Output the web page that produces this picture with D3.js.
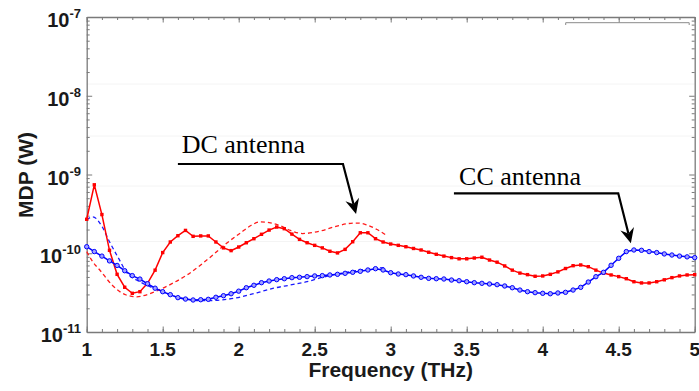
<!DOCTYPE html>
<html>
<head>
<meta charset="utf-8">
<script src="https://cdn.jsdelivr.net/npm/d3@7"></script>
<style>
  html, body { margin: 0; padding: 0; background: #fff; }
  svg { display: block; }
</style>
</head>
<body>
<svg id="chart" width="699" height="391"></svg>
<script>
// ---------------- DATA ----------------
const freq = [1.00,1.05,1.10,1.15,1.20,1.25,1.30,1.35,1.40,1.45,1.50,1.55,1.60,1.65,1.70,1.75,1.80,1.85,1.90,1.95,
  2.00,2.05,2.10,2.15,2.20,2.25,2.30,2.35,2.40,2.45,2.50,2.55,2.60,2.65,2.70,2.75,2.80,2.85,2.90,2.95,
  3.00,3.05,3.10,3.15,3.20,3.25,3.30,3.35,3.40,3.45,3.50,3.55,3.60,3.65,3.70,3.75,3.80,3.85,3.90,3.95,
  4.00,4.05,4.10,4.15,4.20,4.25,4.30,4.35,4.40,4.45,4.50,4.55,4.60,4.65,4.70,4.75,4.80,4.85,4.90,4.95,5.00];

const dcMeasured = [2.7e-10,7.4e-10,3.1e-10,1.09e-10,5.4e-11,3.7e-11,3.1e-11,3.25e-11,4.15e-11,6.1e-11,
  1.02e-10,1.39e-10,1.67e-10,1.95e-10,1.64e-10,1.66e-10,1.66e-10,1.39e-10,1.17e-10,1.08e-10,
  1.2e-10,1.36e-10,1.53e-10,1.74e-10,1.97e-10,2.15e-10,2.05e-10,1.75e-10,1.5e-10,1.36e-10,
  1.26e-10,1.17e-10,1.06e-10,1.01e-10,1.12e-10,1.4e-10,1.82e-10,1.82e-10,1.53e-10,1.39e-10,
  1.31e-10,1.26e-10,1.21e-10,1.15e-10,1.1e-10,1.03e-10,9.7e-11,9.2e-11,8.8e-11,8.5e-11,
  8.5e-11,8.7e-11,8.9e-11,8.2e-11,7.7e-11,6.9e-11,6.1e-11,5.6e-11,5.35e-11,5.1e-11,
  5.15e-11,5.4e-11,5.8e-11,6.4e-11,6.95e-11,7.1e-11,6.75e-11,6.1e-11,5.6e-11,5.3e-11,
  5.05e-11,4.75e-11,4.35e-11,4.2e-11,4.2e-11,4.35e-11,4.6e-11,4.9e-11,5.15e-11,5.3e-11,5.35e-11];

const ccMeasured = [1.21e-10,1.05e-10,9.2e-11,8.0e-11,7.0e-11,6.0e-11,5.2e-11,4.7e-11,4.1e-11,3.6e-11,
  3.25e-11,2.98e-11,2.73e-11,2.62e-11,2.55e-11,2.57e-11,2.6e-11,2.76e-11,2.89e-11,3.06e-11,
  3.3e-11,3.65e-11,3.92e-11,4.23e-11,4.44e-11,4.62e-11,4.75e-11,4.9e-11,4.95e-11,5.05e-11,
  5.15e-11,5.2e-11,5.3e-11,5.4e-11,5.56e-11,5.73e-11,5.9e-11,6.13e-11,6.37e-11,6.13e-11,
  5.66e-11,5.45e-11,5.35e-11,5.15e-11,4.95e-11,4.8e-11,4.75e-11,4.71e-11,4.57e-11,4.48e-11,
  4.35e-11,4.23e-11,4.15e-11,4.07e-11,3.99e-11,3.84e-11,3.65e-11,3.41e-11,3.25e-11,3.16e-11,
  3.1e-11,3.06e-11,3.13e-11,3.19e-11,3.41e-11,3.69e-11,4.31e-11,5.04e-11,5.73e-11,7.03e-11,
  8.63e-11,1.05e-10,1.1e-10,1.09e-10,1.05e-10,1.02e-10,9.8e-11,9.5e-11,9.2e-11,9.0e-11,8.8e-11];

const dcSimFreq = [1.00,1.04,1.09,1.17,1.26,1.33,1.39,1.48,1.57,1.66,1.75,1.83,1.92,2.01,2.08,2.14,2.20,2.27,2.34,2.42,2.53,2.64,2.72,2.78,2.84,2.91,2.97];
const dcSim = [1.05e-10,7.8e-11,6.0e-11,3.9e-11,2.95e-11,2.8e-11,2.95e-11,3.45e-11,4.2e-11,5.3e-11,7.1e-11,9.5e-11,1.34e-10,1.8e-10,2.25e-10,2.5e-10,2.45e-10,2.25e-10,1.95e-10,1.78e-10,1.9e-10,2.2e-10,2.38e-10,2.42e-10,2.3e-10,2.0e-10,1.7e-10];

const ccSimFreq = [1.00,1.04,1.10,1.15,1.21,1.26,1.35,1.44,1.55,1.66,1.77,1.88,2.01,2.12,2.23,2.34,2.45,2.56,2.67,2.77,2.89,2.97];
const ccSim = [2.65e-10,2.9e-10,2.2e-10,1.4e-10,8.6e-11,5.8e-11,4.35e-11,3.6e-11,2.95e-11,2.6e-11,2.5e-11,2.55e-11,2.78e-11,3.15e-11,3.6e-11,3.95e-11,4.35e-11,5.0e-11,5.55e-11,6.0e-11,6.4e-11,6.6e-11];

const xTicks = [1, 1.5, 2, 2.5, 3, 3.5, 4, 4.5, 5];
const xTickLabels = ["1", "1.5", "2", "2.5", "3", "3.5", "4", "4.5", "5"];
const yTicks = [1e-11, 1e-10, 1e-9, 1e-8, 1e-7];
const yTickExp = ["-11", "-10", "-9", "-8", "-7"];
const xLabel = "Frequency (THz)";
const yLabel = "MDP (W)";
const annotations = [
  { text: "DC antenna", tx: 1.625, ty: 1.86e-9, x0: 1.60, x1: 2.686, yl: 1.36e-9, tipX: 2.772, tipY: 3.15e-10 },
  { text: "CC antenna", tx: 3.45, ty: 7.3e-10, x0: 3.416, x1: 4.497, yl: 5.77e-10, tipX: 4.58, tipY: 1.34e-10 }
];

// ---------------- CHART ----------------
const svg = d3.select("#chart");
const L = 86.7, R = 694.7, T = 17, B = 332;
const x = d3.scaleLinear().domain([1, 5]).range([L, R]);
const y = d3.scaleLog().domain([1e-11, 1e-7]).range([B, T]);

const axisColor = "#7a7a7a";
const minorX = d3.range(10, 51).map(d => d / 10);
const minorY = [];
[-11, -10, -9, -8].forEach(e => { for (let k = 2; k <= 9; k++) minorY.push(k * Math.pow(10, e)); });

// faint horizontal lines (rendering artifacts in the original)
[84, 136, 186, 241.5].forEach(py => {
  svg.append("line").attr("x1", L).attr("x2", R).attr("y1", py).attr("y2", py)
    .attr("stroke", "#f4f4f4").attr("stroke-width", 1);
});

const gAx = svg.append("g");
function styleAxis(g) {
  g.selectAll("path.domain").attr("stroke", axisColor).attr("stroke-width", 1.3);
  g.selectAll(".tick line").attr("stroke", axisColor).attr("stroke-width", 1);
  g.selectAll(".tick text").remove();
}
// bottom
gAx.append("g").attr("transform", `translate(0,${B})`)
  .call(d3.axisBottom(x).tickValues(minorX).tickSize(-3).tickSizeOuter(0)).call(styleAxis);
gAx.append("g").attr("transform", `translate(0,${B})`)
  .call(d3.axisBottom(x).tickValues(xTicks).tickSize(-5.5).tickSizeOuter(0)).call(styleAxis)
  .select("path.domain").remove();
// top
gAx.append("g").attr("transform", `translate(0,${T})`)
  .call(d3.axisTop(x).tickValues(minorX).tickSize(-3).tickSizeOuter(0)).call(styleAxis);
gAx.append("g").attr("transform", `translate(0,${T})`)
  .call(d3.axisTop(x).tickValues(xTicks).tickSize(-5.5).tickSizeOuter(0)).call(styleAxis)
  .select("path.domain").remove();
// left
gAx.append("g").attr("transform", `translate(${L},0)`)
  .call(d3.axisLeft(y).tickValues(minorY).tickSize(-3).tickSizeOuter(0)).call(styleAxis);
gAx.append("g").attr("transform", `translate(${L},0)`)
  .call(d3.axisLeft(y).tickValues(yTicks).tickSize(-5.5).tickSizeOuter(0)).call(styleAxis)
  .select("path.domain").remove();
// right
gAx.append("g").attr("transform", `translate(${R},0)`)
  .call(d3.axisRight(y).tickValues(minorY).tickSize(-3).tickSizeOuter(0)).call(styleAxis);
gAx.append("g").attr("transform", `translate(${R},0)`)
  .call(d3.axisRight(y).tickValues(yTicks).tickSize(-5.5).tickSizeOuter(0)).call(styleAxis)
  .select("path.domain").remove();

// legend box remnant (top right)
svg.append("path")
  .attr("d", `M${R - 129},${T + 8} V${T + 5.7} H${R - 5.5} V${T + 8}`)
  .attr("fill", "none").attr("stroke", "#8a8a8a").attr("stroke-width", 1);

// tick labels
const fontSans = "'Liberation Sans', Arial, sans-serif";
svg.append("g").selectAll("text").data(xTicks).join("text")
  .attr("x", d => x(d)).attr("y", B + 24)
  .attr("text-anchor", "middle")
  .attr("font-family", fontSans).attr("font-weight", "bold").attr("font-size", 19)
  .attr("fill", "#1a1a1a")
  .text((d, i) => xTickLabels[i]);

const yl = svg.append("g");
yTicks.forEach((v, i) => {
  const t = yl.append("text")
    .attr("x", 81).attr("y", y(v) + 10)
    .attr("text-anchor", "end")
    .attr("font-family", fontSans).attr("font-weight", "bold").attr("font-size", 20)
    .attr("fill", "#1a1a1a");
  t.append("tspan").text("10");
  t.append("tspan").attr("font-size", 13).attr("dy", -9).text(yTickExp[i]);
});

// axis titles
svg.append("text")
  .attr("x", (L + R) / 2).attr("y", 377)
  .attr("text-anchor", "middle")
  .attr("font-family", fontSans).attr("font-weight", "bold").attr("font-size", 21)
  .attr("fill", "#1a1a1a").text(xLabel);
svg.append("text")
  .attr("transform", `translate(33,175) rotate(-90)`)
  .attr("text-anchor", "middle")
  .attr("font-family", fontSans).attr("font-weight", "bold").attr("font-size", 21)
  .attr("fill", "#1a1a1a").text(yLabel);

// ---------------- SERIES ----------------
const plot = svg.append("g");
const dashLine = d3.line().curve(d3.curveMonotoneX).x(d => x(d[0])).y(d => y(d[1]));
const solidLine = d3.line().x(d => x(d[0])).y(d => y(d[1]));

plot.append("path").datum(dcSimFreq.map((f, i) => [f, dcSim[i]]))
  .attr("d", dashLine).attr("fill", "none").attr("stroke", "#ff1a1a")
  .attr("stroke-width", 1.3).attr("stroke-dasharray", "4,3");
plot.append("path").datum(ccSimFreq.map((f, i) => [f, ccSim[i]]))
  .attr("d", dashLine).attr("fill", "none").attr("stroke", "#1a1aff")
  .attr("stroke-width", 1.3).attr("stroke-dasharray", "4,3");

const dcPts = freq.map((f, i) => [f, dcMeasured[i]]);
const ccPts = freq.map((f, i) => [f, ccMeasured[i]]);

plot.append("path").datum(dcPts).attr("d", solidLine)
  .attr("fill", "none").attr("stroke", "#ff0000").attr("stroke-width", 1.5);
plot.append("g").selectAll("rect").data(dcPts).join("rect")
  .attr("x", d => x(d[0]) - 1.7).attr("y", d => y(d[1]) - 1.7)
  .attr("width", 3.4).attr("height", 3.4).attr("fill", "#ff0000");

plot.append("path").datum(ccPts).attr("d", solidLine)
  .attr("fill", "none").attr("stroke", "#0000ff").attr("stroke-width", 1.5);
plot.append("g").selectAll("circle").data(ccPts).join("circle")
  .attr("cx", d => x(d[0])).attr("cy", d => y(d[1])).attr("r", 2.2)
  .attr("fill", "#a0a0ff").attr("stroke", "#0000ff").attr("stroke-width", 1);

// ---------------- ANNOTATIONS ----------------
const fontSerif = "'Liberation Serif', 'Times New Roman', serif";
annotations.forEach(a => {
  svg.append("text")
    .attr("x", x(a.tx)).attr("y", y(a.ty))
    .attr("font-family", fontSerif).attr("font-size", 26).attr("fill", "#000")
    .text(a.text);
  const sx = x(a.x1), sy = y(a.yl), tx = x(a.tipX), ty = y(a.tipY);
  const dx = tx - sx, dy = ty - sy, len = Math.hypot(dx, dy);
  const ux = dx / len, uy = dy / len, px = -uy, py = ux;
  const headL = 15, headW = 7, notch = 5;
  const bx = tx - ux * headL, by = ty - uy * headL;
  svg.append("path")
    .attr("d", `M${x(a.x0)},${sy} H${sx} L${tx - ux * (headL - notch)},${ty - uy * (headL - notch)}`)
    .attr("fill", "none").attr("stroke", "#000").attr("stroke-width", 2.2);
  svg.append("path")
    .attr("d", `M${tx},${ty} L${bx + px * headW},${by + py * headW} L${tx - ux * (headL - notch)},${ty - uy * (headL - notch)} L${bx - px * headW},${by - py * headW} Z`)
    .attr("fill", "#000");
});
</script>
</body>
</html>
